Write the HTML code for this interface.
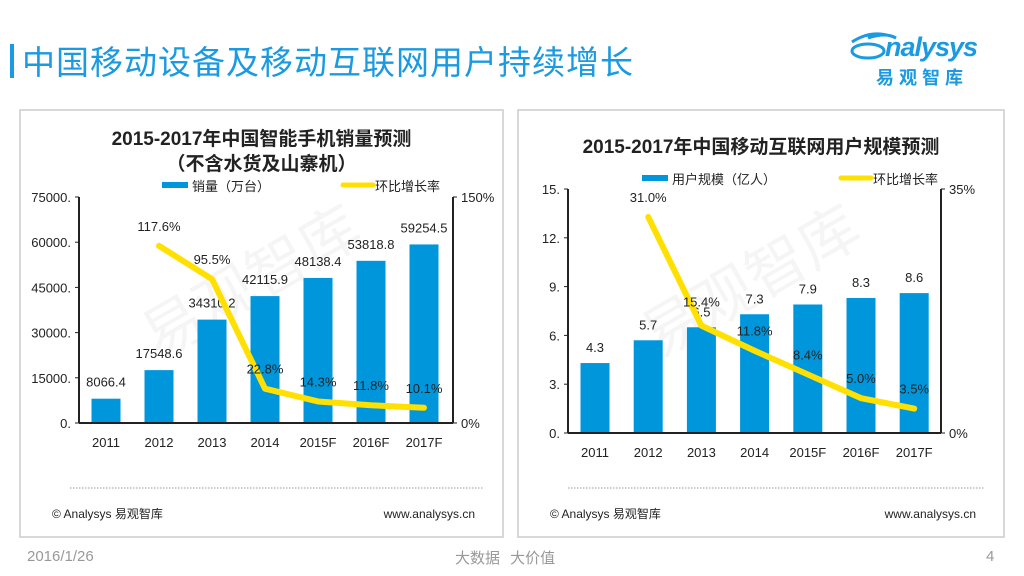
<!DOCTYPE html>
<html><head><meta charset="utf-8"><style>
body{margin:0;width:1024px;height:576px;background:#fff;position:relative;overflow:hidden;font-family:"Liberation Sans","Noto Sans CJK SC",sans-serif}
.abs{position:absolute}
</style></head><body>
<div class="abs" style="left:10px;top:44px;width:4px;height:34px;background:#1a9ae0"></div>
<div class="abs" style="left:22px;top:38px;font-size:33px;color:#1a9ae0;white-space:nowrap;letter-spacing:1px;font-family:'Noto Sans CJK SC',sans-serif;line-height:44px">中国移动设备及移动互联网用户持续增长</div>
<div class="abs" style="left:848px;top:26px;width:150px;height:60px;color:#1a9ae0">
<svg width="150" height="60" style="position:absolute;left:0;top:0"><path d="M4 16 Q25 2 48 12 Q38 6 20 12" fill="none" stroke="#1a9ae0" stroke-width="3"/><ellipse cx="20" cy="25" rx="16" ry="7" fill="none" stroke="#1a9ae0" stroke-width="3"/></svg>
<div class="abs" style="left:37px;top:6px;font-size:27px;font-style:italic;font-weight:bold;letter-spacing:-1px">nalysys</div>
<div class="abs" style="left:28px;top:38px;font-size:18px;font-weight:bold;letter-spacing:5px;font-family:'Noto Sans CJK SC',sans-serif">易观智库</div>
</div>
<svg id="c" class="abs" style="left:0;top:0" width="1024" height="576"></svg>
<div class="abs" style="left:27px;top:548px;font-size:15px;color:#999">2016/1/26</div>
<div class="abs" style="left:455px;top:547px;font-size:15px;color:#999;font-family:'Noto Sans CJK SC',sans-serif">大数据 &nbsp;&nbsp;大价值</div>
<div class="abs" style="left:986px;top:548px;font-size:15px;color:#999">4</div>
<script>
const cats=["2011","2012","2013","2014","2015F","2016F","2017F"];
const salesVals=[8066.4,17548.6,34310.2,42115.9,48138.4,53818.8,59254.5];
const salesRate=[null,117.6,95.5,22.8,14.3,11.8,10.1];
const salesTicks=["0.","15000.","30000.","45000.","60000.","75000."];
const userVals=[4.3,5.7,6.5,7.3,7.9,8.3,8.6];
const userRate=[null,31.0,15.4,11.8,8.4,5.0,3.5];
const userTicks=["0.","3.","6.","9.","12.","15."];
const svg=document.getElementById('c');const NS="http://www.w3.org/2000/svg";
function el(t,a,txt,name){const e=document.createElementNS(NS,t);for(const k in a)e.setAttribute(k,a[k]);if(txt!==undefined)e.textContent=txt;


svg.appendChild(e);return e;}
function chart(o){
 const {px,pw,L,R,T,B,x0,step,vals,rate,ticks,yMax,rMax,rTicks,labels,rateLabelOff,valLabelOff}=o;
 el('rect',{x:px,y:110,width:pw,height:427,fill:'#fff',stroke:'#ccc','stroke-width':1.5},undefined,o.id+'-panel');
 el('text',{x:px+pw/2,y:300,'text-anchor':'middle','font-size':60,fill:'rgba(0,0,0,0.04)',transform:`rotate(-30 ${px+pw/2} 300)`},'易观智库',o.id+'-watermark');
 const y=v=>B-v/yMax*(B-T), yr=v=>B-v/rMax*(B-T), x=i=>x0+i*step;
 o.titles.forEach((t,i)=>el('text',{x:px+pw/2,y:o.ty+i*25,'text-anchor':'middle','font-size':19,'font-weight':'bold',fill:'#222'},t,o.id+'-title'));
 el('rect',{x:o.lx,y:o.ly-5,width:26,height:6,fill:'#0096dc'},undefined,o.id+'-legend-bar-swatch');
 el('text',{x:o.lx+30,y:o.ly+4,'font-size':13,fill:'#222'},o.leg,o.id+'-legend-bar');
 el('line',{x1:o.lx2,y1:o.ly-2,x2:o.lx2+30,y2:o.ly-2,stroke:'#ffe000','stroke-width':5,'stroke-linecap':'round'},undefined,o.id+'-legend-line-swatch');
 el('text',{x:o.lx2+32,y:o.ly+4,'font-size':13,fill:'#222'},'环比增长率',o.id+'-legend-line');
 ticks.forEach((t,i)=>{const v=i*yMax/(ticks.length-1);
  el('text',{x:L-8,y:y(v)+5,'text-anchor':'end','font-size':13,fill:'#222'},t,o.id+'-ytick');
  el('line',{x1:L-4,y1:y(v),x2:L,y2:y(v),stroke:'#222'},undefined,o.id+'-ytick-mark');});
 rTicks.forEach(t=>{el('text',{x:R+8,y:yr(t)+5,'font-size':13,fill:'#222'},t+'%',o.id+'-rtick');el('line',{x1:R,y1:yr(t),x2:R+4,y2:yr(t),stroke:'#222'},undefined,o.id+'-rtick-mark');});
 vals.forEach((v,i)=>{el('rect',{x:x(i)-14.5,y:y(v),width:29,height:B-y(v),fill:'#0096dc'},undefined,o.id+'-bar-'+cats[i]);
  el('text',{x:x(i),y:y(v)-valLabelOff(i),'text-anchor':'middle','font-size':13,fill:'#222'},labels(v),o.id+'-bar-label');
  el('text',{x:x(i),y:B+24,'text-anchor':'middle','font-size':13,fill:'#222'},cats[i],o.id+'-xtick');});
 el('line',{x1:L,y1:T,x2:L,y2:B,stroke:'#222','stroke-width':2},undefined,o.id+'-left-axis');
 el('line',{x1:R,y1:T,x2:R,y2:B,stroke:'#222','stroke-width':2},undefined,o.id+'-right-axis');
 el('line',{x1:L,y1:B,x2:R,y2:B,stroke:'#222','stroke-width':2},undefined,o.id+'-x-axis');
 let d='';rate.forEach((r,i)=>{if(r==null)return;d+=(d?'L':'M')+x(i)+' '+yr(r);});
 el('path',{d:d,fill:'none',stroke:'#ffe000','stroke-width':6,'stroke-linejoin':'round','stroke-linecap':'round'},undefined,o.id+'-growth-line');
 rate.forEach((r,i)=>{if(r==null)return;el('text',{x:x(i),y:yr(r)-rateLabelOff(i),'text-anchor':'middle','font-size':13,fill:'#222'},r.toFixed(1)+'%',o.id+'-rate-label');});
 el('line',{x1:px+50,y1:488,x2:px+pw-20,y2:488,stroke:'#999','stroke-dasharray':'1.5 1.5'},undefined,o.id+'-divider');
 el('text',{x:px+32,y:518,'font-size':12,fill:'#222'},'© Analysys 易观智库',o.id+'-copyright');
 el('text',{x:px+pw-28,y:518,'text-anchor':'end','font-size':12,fill:'#222'},'www.analysys.cn',o.id+'-url');
}
chart({id:'sales',px:20,pw:483,L:79,R:453,T:197,B:423,x0:106,step:53,vals:salesVals,rate:salesRate,ticks:salesTicks,yMax:75000,rMax:150,rTicks:[0,150],leg:'销量（万台）',
 labels:v=>v.toFixed(1),valLabelOff:i=>12,rateLabelOff:i=>15,titles:['2015-2017年中国智能手机销量预测','（不含水货及山寨机）'],ty:145,lx:162,lx2:343,ly:187});
chart({id:'users',px:518,pw:486,L:568,R:941,T:189,B:433,x0:595,step:53.2,vals:userVals,rate:userRate,ticks:userTicks,yMax:15,rMax:35,rTicks:[0,35],leg:'用户规模（亿人）',
 labels:v=>v.toFixed(1),valLabelOff:i=>11,rateLabelOff:i=>i==2?19:15,titles:['2015-2017年中国移动互联网用户规模预测'],ty:153,lx:642,lx2:841,ly:180});
</script>
</body></html>
